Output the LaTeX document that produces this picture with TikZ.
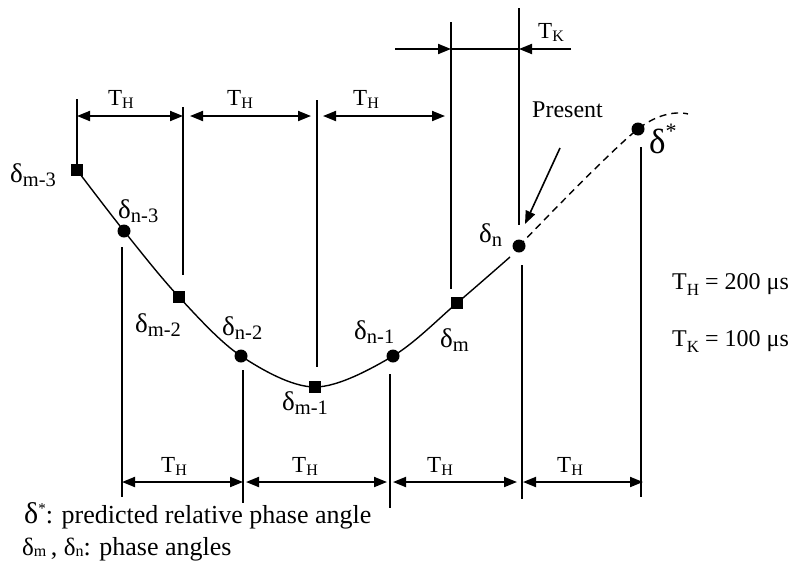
\documentclass[tikz,border=0pt]{standalone}
\usepackage{fontspec}
\setmainfont{Liberation Serif}
\usetikzlibrary{arrows.meta}
\newcommand{\dlab}[1]{{\fontsize{27}{27}\selectfont δ}\raisebox{-4pt}{\fontsize{20.5}{20.5}\selectfont #1}}
\newcommand{\tlab}[1]{{\fontsize{23}{23}\selectfont T}\raisebox{-3pt}{\fontsize{16}{16}\selectfont #1}}
\begin{document}
\begin{tikzpicture}[x=1pt,y=-1pt,
  curve/.style={line width=1.4pt},
  vl/.style={line width=1.3pt},
  sqm/.style={rectangle, fill=black, minimum size=12.5pt, inner sep=0pt},
  dotm/.style={circle, fill=black, minimum size=13pt, inner sep=0pt},
  dimarr/.style={line width=1.9pt, {Triangle[length=13pt,width=10pt]}-{Triangle[length=13pt,width=10pt]}},
  onearr/.style={line width=1.9pt, -{Triangle[length=13pt,width=10pt]}},
  lbl/.style={inner sep=0pt, anchor=base west},
  txt/.style={inner sep=0pt, anchor=base west, font=\fontsize{24}{24}\selectfont},
  legtxt/.style={inner sep=0pt, anchor=base west, font=\fontsize{26}{26}\selectfont}]
\useasboundingbox (0,0) rectangle (791,568);
% curve points
\coordinate (pm3) at (77,170);
\coordinate (pn3) at (124,231);
\coordinate (pm2) at (179,297);
\coordinate (pn2) at (241,356);
\coordinate (pm1) at (315,387);
\coordinate (pn1) at (393,356);
\coordinate (pm0) at (457,303);
\coordinate (pe) at (510,257);
\coordinate (pn0) at (519,246);
\coordinate (pds) at (638,129);
\coordinate (pde) at (688,114);
\draw[curve] plot[smooth, tension=0.55] coordinates {(pm3) (pn3) (pm2) (pn2) (pm1) (pn1) (pm0) (pe)};
\draw[curve, dash pattern=on 7pt off 5pt] plot[smooth, tension=0.6] coordinates {(pn0) (pds) (pde)};
% markers
\node[sqm] (m3) at (pm3) {};
\node[dotm] (n3) at (pn3) {};
\node[sqm] (m2) at (pm2) {};
\node[dotm] (n2) at (pn2) {};
\node[sqm] (m1) at (pm1) {};
\node[dotm] (n1) at (pn1) {};
\node[sqm] (m0) at (pm0) {};
\node[dotm] (n0) at (pn0) {};
\node[dotm] (ds) at (pds) {};
% top vertical lines
\coordinate (a1t) at (77,99);
\coordinate (a2t) at (183,107); \coordinate (a2b) at (183,275);
\coordinate (a3t) at (317,100); \coordinate (a3b) at (317,367);
\coordinate (a4t) at (451,22);  \coordinate (a4b) at (451,289);
\coordinate (a5t) at (519,8);   \coordinate (a5b) at (519,225);
\draw[vl] (a1t) -- (m3);
\draw[vl] (a2t) -- (a2b);
\draw[vl] (a3t) -- (a3b);
\draw[vl] (a4t) -- (a4b);
\draw[vl] (a5t) -- (a5b);
% bottom vertical lines
\coordinate (b1t) at (122,247); \coordinate (b1b) at (122,497);
\coordinate (b2t) at (243,370); \coordinate (b2b) at (243,503);
\coordinate (b3t) at (390,374); \coordinate (b3b) at (390,508);
\coordinate (b4t) at (522,265); \coordinate (b4b) at (522,499);
\coordinate (b5t) at (641,147); \coordinate (b5b) at (641,497);
\draw[vl] (b1t) -- (b1b);
\draw[vl] (b2t) -- (b2b);
\draw[vl] (b3t) -- (b3b);
\draw[vl] (b4t) -- (b4b);
\draw[vl] (b5t) -- (b5b);
% top T_H arrows
\coordinate (ta1) at (77,116);  \coordinate (ta2) at (183,116);
\coordinate (ta3) at (190,116); \coordinate (ta4) at (311,116);
\coordinate (ta5) at (323,116); \coordinate (ta6) at (445,116);
\draw[dimarr] (ta1) -- (ta2);
\draw[dimarr] (ta3) -- (ta4);
\draw[dimarr] (ta5) -- (ta6);
\node[inner sep=0pt, anchor=base] (th1) at (121,105) {\tlab{H}};
\node[inner sep=0pt, anchor=base] (th2) at (240,105) {\tlab{H}};
\node[inner sep=0pt, anchor=base] (th3) at (366,105) {\tlab{H}};
% T_K
\coordinate (k1) at (395,49); \coordinate (k2) at (451,49);
\coordinate (k3) at (571,49); \coordinate (k4) at (519,49);
\draw[onearr] (k1) -- (k2);
\draw[line width=1.9pt] (k2) -- (k4);
\draw[onearr] (k3) -- (k4);
\node[inner sep=0pt, anchor=base] (tk) at (551,38) {\tlab{K}};
% bottom T_H arrows
\coordinate (ba1) at (122,482); \coordinate (ba2) at (243,482);
\coordinate (ba3) at (246,482); \coordinate (ba4) at (387,482);
\coordinate (ba5) at (393,482); \coordinate (ba6) at (517,482);
\coordinate (ba7) at (523,482); \coordinate (ba8) at (643,482);
\draw[dimarr] (ba1) -- (ba2);
\draw[dimarr] (ba3) -- (ba4);
\draw[dimarr] (ba5) -- (ba6);
\draw[dimarr] (ba7) -- (ba8);
\node[inner sep=0pt, anchor=base] (bh1) at (174,472) {\tlab{H}};
\node[inner sep=0pt, anchor=base] (bh2) at (305,472) {\tlab{H}};
\node[inner sep=0pt, anchor=base] (bh3) at (440,472) {\tlab{H}};
\node[inner sep=0pt, anchor=base] (bh4) at (570,472) {\tlab{H}};
% Present
\node[txt] (pres) at (532,117) {Present};
\coordinate (pa) at (560,148);
\coordinate (ptip) at (525,224);
\draw[line width=1.6pt, -{Triangle[length=13pt,width=10pt]}] (pa) -- (ptip);
% delta labels
\node[lbl] (lm3) at (10,182) {\dlab{m-3}};
\node[lbl] (ln3) at (118,218) {\dlab{n-3}};
\node[lbl] (lm2) at (135,332) {\dlab{m-2}};
\node[lbl] (ln2) at (222,335) {\dlab{n-2}};
\node[lbl] (lm1) at (282,410) {\dlab{m-1}};
\node[lbl] (ln1) at (354,339) {\dlab{n-1}};
\node[lbl] (lm0) at (440,347) {\dlab{m}};
\node[lbl] (ln0) at (479,242) {\dlab{n}};
\node[lbl] (lds) at (649,153) {{\fontsize{35}{35}\selectfont δ}\raisebox{15pt}{\fontsize{22}{22}\selectfont *}};
% parameters
\node[txt] (parh) at (672,289) {T\raisebox{-6pt}{\fontsize{17}{17}\selectfont H} = 200 μs};
\node[txt] (park) at (672,346) {T\raisebox{-6pt}{\fontsize{17}{17}\selectfont K} = 100 μs};
% legend
\node[legtxt] (leg1) at (24,523) {{\fontsize{30}{30}\selectfont δ}\raisebox{10pt}{\fontsize{15}{15}\selectfont *}: predicted relative phase angle};
\node[legtxt] (leg2) at (22,555) {{\fontsize{25}{25}\selectfont δ}\raisebox{-1pt}{\fontsize{16}{16}\selectfont m}\,, {\fontsize{25}{25}\selectfont δ}\raisebox{-1pt}{\fontsize{16}{16}\selectfont n}: phase angles};
\end{tikzpicture}
\end{document}
